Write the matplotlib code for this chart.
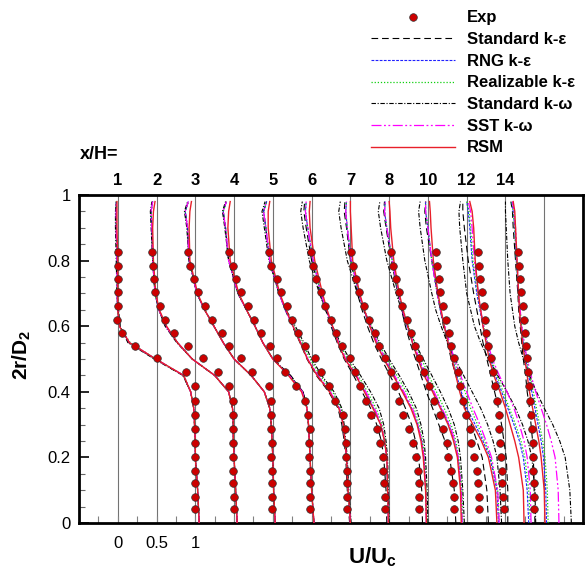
import numpy as np
import matplotlib
matplotlib.use("Agg")
import matplotlib.pyplot as plt
from matplotlib.lines import Line2D

plt.rcParams['font.family'] = ['Liberation Sans', 'DejaVu Sans']
plt.rcParams['mathtext.fontset'] = 'custom'
plt.rcParams['mathtext.rm'] = 'Liberation Sans'
plt.rcParams['mathtext.bf'] = 'Liberation Sans:bold'

# stations x/H, each profile shifted by 0.5 on the U axis
stations = ['1', '2', '3', '4', '5', '6', '7', '8', '10', '12', '14']
shift = 0.5

# experimental points (2r/D2)
y_exp = [0.043, 0.08, 0.122, 0.16, 0.201, 0.244, 0.287, 0.329, 0.372, 0.417,
         0.46, 0.503, 0.54, 0.579, 0.619, 0.662, 0.704, 0.744, 0.784, 0.826]
exp_u = [
    [.99, .99, 1.0, 1.0, .99, .99, 1.0, .99, 1.0, .99, .88, .50, .22, .06, -.01, .0, .0, .0, .0, .0],
    [1.0, 1.0, .99, .99, .98, .99, .99, .99, .98, .94, .79, .60, .40, .23, .115, .04, -.02, -.035, -.04, -.055],
    [.99, .99, .99, .99, .98, .99, .98, .98, .98, .95, .73, .59, .44, .35, .22, .13, .03, -.02, -.064, -.094],
    [.98, .98, .98, .98, .97, .97, .98, .95, .91, .80, .66, .56, .46, .35, .26, .18, .09, .03, -.02, -.07],
    [.95, .95, .95, .95, .94, .94, .93, .90, .80, .72, .62, .54, .42, .33, .25, .18, .10, .06, -.02, -.05],
    [.95, .95, .93, .92, .915, .885, .84, .76, .70, .63, .56, .49, .39, .32, .25, .175, .12, .06, .02, -.01],
    [.885, .885, .885, .87, .84, .81, .756, .68, .63, .58, .52, .44, .37, .32, .245, .18, .115, .07, .03, .01],
    [.84, .84, .82, .80, .76, .74, .70, .65, .58, .52, .45, .38, .33, .28, .235, .16, .13, .085, .055, .02],
    [.66, .66, .64, .63, .59, .56, .54, .49, .45, .41, .39, .34, .30, .27, .23, .19, .16, .14, .12, .10],
    [.48, .47, .46, .45, .44, .43, .42, .42, .39, .37, .34, .31, .27, .25, .23, .22, .195, .17, .16, .146],
    [.37, .37, .37, .36, .36, .35, .34, .33, .32, .30, .29, .28, .27, .25, .24, .23, .20, .19, .18, .165],
]

# model profiles, read on a common 2r/D2 grid
y_line = [0.0, 0.1, 0.2, 0.25, 0.3, 0.35, 0.4, 0.45, 0.5, 0.55, 0.6, 0.65, 0.7, 0.8, 0.9, 0.95, 0.98]

ske_u = [
    [1.05, 1.03, 1.0, 1.0, .99, .98, .94, .84, .48, .14, .03, .0, -.01, -.01, -.02, -.02, -.02],
    [1.04, 1.02, 1.0, .99, .99, .98, .93, .75, .46, .27, .12, .03, -.02, -.05, -.06, -.07, -.05],
    [1.03, 1.01, 1.0, .99, .98, .96, .89, .72, .50, .36, .24, .12, .02, -.08, -.10, -.13, -.09],
    [1.03, 1.0, .98, .97, .96, .94, .89, .73, .50, .37, .27, .16, .05, -.07, -.11, -.14, -.10],
    [.99, .96, .94, .92, .89, .84, .72, .56, .44, .35, .25, .16, .08, -.04, -.09, -.12, -.08],
    [.97, .96, .93, .90, .84, .76, .65, .54, .42, .33, .25, .18, .11, .0, -.07, -.10, -.09],
    [.93, .92, .88, .84, .79, .71, .62, .51, .40, .30, .22, .15, .09, .0, -.05, -.08, -.07],
    [.86, .84, .78, .72, .64, .56, .48, .41, .34, .27, .21, .16, .11, .03, -.04, -.07, -.06],
    [.78, .76, .70, .63, .56, .48, .42, .36, .30, .25, .20, .16, .12, .05, -.02, -.04, -.03],
    [.53, .53, .51, .48, .45, .41, .36, .31, .26, .21, .17, .13, .09, .02, -.03, -.05, -.05],
    [.38, .37, .36, .35, .33, .31, .28, .26, .23, .21, .19, .17, .16, .13, .10, .09, .07],
]
rng_u = [
    [1.05, 1.03, 1.0, 1.0, .99, .98, .94, .85, .49, .15, .02, .0, -.01, -.01, -.02, -.02, -.02],
    [1.04, 1.02, 1.0, .99, .99, .98, .93, .75, .46, .27, .12, .03, -.02, -.05, -.06, -.07, -.05],
    [1.03, 1.01, 1.0, .99, .98, .96, .89, .72, .50, .36, .24, .12, .02, -.08, -.10, -.13, -.09],
    [1.03, 1.0, .98, .97, .96, .94, .88, .71, .50, .37, .27, .16, .05, -.07, -.11, -.14, -.10],
    [1.0, .97, .95, .93, .91, .86, .74, .58, .45, .36, .26, .16, .08, -.04, -.09, -.12, -.08],
    [.99, .98, .97, .94, .89, .80, .69, .57, .43, .34, .26, .19, .12, .02, -.05, -.08, -.07],
    [.98, .97, .95, .92, .87, .79, .68, .56, .44, .34, .25, .17, .11, .01, -.04, -.06, -.05],
    [.94, .93, .89, .84, .77, .67, .57, .46, .38, .30, .23, .17, .12, .04, -.03, -.06, -.05],
    [.91, .89, .80, .71, .61, .50, .43, .37, .32, .26, .21, .16, .12, .05, .0, -.03, -.03],
    [.80, .78, .73, .68, .61, .53, .45, .37, .31, .26, .21, .17, .13, .07, .04, .02, .0],
    [.53, .52, .49, .46, .42, .38, .34, .30, .26, .23, .20, .18, .17, .14, .12, .10, .08],
]
rke_u = [
    [1.05, 1.03, 1.0, 1.0, .99, .98, .94, .85, .49, .16, .02, .0, -.01, -.01, -.02, -.02, -.02],
    [1.04, 1.02, 1.0, .99, .99, .98, .93, .75, .46, .27, .12, .03, -.02, -.05, -.06, -.07, -.05],
    [1.03, 1.01, 1.0, .99, .98, .96, .89, .72, .50, .36, .24, .12, .02, -.08, -.10, -.13, -.09],
    [1.03, 1.0, .98, .97, .96, .94, .88, .71, .50, .37, .27, .16, .05, -.07, -.11, -.14, -.10],
    [1.0, .97, .95, .93, .91, .88, .77, .61, .48, .38, .27, .17, .08, -.04, -.09, -.12, -.08],
    [.99, .98, .97, .95, .91, .83, .72, .60, .46, .36, .27, .19, .12, .02, -.05, -.08, -.07],
    [.99, .98, .96, .93, .89, .82, .72, .60, .47, .36, .27, .18, .11, .01, -.04, -.06, -.05],
    [.95, .94, .90, .86, .80, .71, .61, .51, .42, .33, .25, .18, .12, .04, -.03, -.06, -.05],
    [.92, .90, .81, .73, .64, .55, .48, .40, .33, .27, .21, .16, .12, .05, .0, -.03, -.03],
    [.82, .80, .75, .70, .63, .55, .47, .39, .32, .27, .22, .18, .14, .08, .05, .03, .0],
    [.55, .54, .51, .48, .44, .40, .36, .31, .27, .24, .21, .19, .17, .14, .12, .10, .08],
]
skw_u = [
    [1.05, 1.03, 1.0, 1.0, .99, .98, .94, .84, .47, .13, .03, .01, -.01, -.02, -.03, -.03, -.02],
    [1.04, 1.02, 1.0, .99, .99, .98, .93, .75, .46, .26, .11, .03, -.02, -.05, -.07, -.08, -.06],
    [1.03, 1.01, 1.0, .99, .98, .96, .89, .72, .50, .36, .24, .12, .02, -.08, -.11, -.14, -.10],
    [1.03, 1.0, .98, .97, .96, .94, .89, .72, .50, .37, .27, .16, .05, -.07, -.12, -.15, -.11],
    [1.01, .98, .96, .94, .92, .89, .79, .63, .50, .40, .29, .17, .08, -.05, -.11, -.14, -.10],
    [1.0, .99, .98, .96, .93, .87, .76, .63, .49, .37, .27, .18, .10, -.03, -.11, -.14, -.12],
    [1.0, .99, .97, .95, .91, .85, .75, .63, .50, .38, .27, .17, .09, -.04, -.12, -.15, -.13],
    [.97, .95, .92, .89, .84, .76, .66, .55, .44, .33, .24, .16, .09, -.03, -.11, -.14, -.12],
    [.95, .93, .89, .84, .77, .68, .57, .46, .35, .25, .17, .10, .05, -.04, -.10, -.12, -.10],
    [.89, .88, .84, .79, .72, .63, .52, .40, .28, .18, .10, .05, .0, -.05, -.09, -.10, -.08],
    [.85, .83, .77, .70, .61, .50, .40, .31, .23, .17, .12, .09, .06, .03, .01, .0, .0],
]
sst_u = [
    [1.05, 1.03, 1.0, 1.0, .99, .98, .94, .85, .49, .15, .02, .0, -.01, -.01, -.02, -.02, -.02],
    [1.04, 1.02, 1.0, .99, .99, .98, .93, .75, .46, .27, .12, .03, -.02, -.05, -.06, -.07, -.05],
    [1.03, 1.01, 1.0, .99, .98, .96, .89, .72, .50, .36, .24, .12, .02, -.08, -.10, -.13, -.09],
    [1.03, 1.0, .98, .97, .96, .94, .88, .71, .50, .37, .27, .16, .05, -.07, -.11, -.14, -.10],
    [1.0, .97, .95, .93, .91, .86, .74, .58, .45, .36, .26, .16, .08, -.04, -.09, -.12, -.08],
    [.99, .98, .97, .94, .90, .81, .70, .58, .44, .35, .27, .19, .12, .02, -.05, -.08, -.07],
    [.98, .97, .95, .92, .87, .80, .69, .57, .45, .35, .26, .18, .11, .01, -.04, -.06, -.05],
    [.94, .93, .89, .85, .78, .68, .58, .48, .39, .31, .24, .17, .12, .04, -.03, -.06, -.05],
    [.92, .90, .82, .75, .67, .58, .50, .42, .34, .28, .22, .16, .12, .05, .0, -.03, -.03],
    [.83, .82, .78, .74, .68, .61, .52, .42, .33, .27, .22, .18, .15, .10, .07, .05, .02],
    [.69, .68, .64, .59, .53, .46, .39, .33, .28, .24, .21, .19, .17, .15, .13, .11, .09],
]
rsm_u = [
    [1.05, 1.03, 1.0, 1.0, .99, .98, .94, .85, .49, .15, .02, .0, .0, .0, -.01, -.01, -.01],
    [1.04, 1.02, 1.0, .99, .99, .98, .93, .75, .46, .27, .13, .035, -.01, -.04, -.05, -.04, -.02],
    [1.03, 1.01, 1.0, .99, .98, .96, .89, .72, .50, .36, .24, .12, .03, -.07, -.08, -.07, -.05],
    [1.03, 1.0, .98, .97, .96, .94, .87, .70, .50, .37, .27, .16, .06, -.05, -.08, -.07, -.05],
    [1.0, .97, .95, .93, .91, .85, .73, .57, .445, .355, .26, .17, .09, -.02, -.06, -.06, -.04],
    [.99, .98, .97, .94, .89, .79, .68, .57, .43, .34, .27, .20, .14, .04, -.02, -.03, -.02],
    [.98, .97, .94, .91, .86, .78, .67, .55, .43, .33, .25, .18, .12, .03, .01, .0, .0],
    [.93, .92, .88, .83, .76, .66, .56, .45, .37, .30, .24, .18, .13, .06, .02, .01, .0],
    [.89, .87, .78, .69, .58, .47, .41, .36, .31, .26, .21, .17, .13, .07, .04, .03, .02],
    [.74, .73, .67, .62, .56, .50, .43, .35, .29, .25, .21, .18, .15, .11, .09, .07, .04],
    [.51, .50, .46, .43, .39, .35, .31, .28, .25, .22, .20, .18, .17, .15, .13, .12, .10],
]

models = [
    ('Standard k-\u03b5', ske_u, dict(color='black', lw=0.8, dashes=(6, 3.5))),
    ('RNG k-\u03b5', rng_u, dict(color='#2020ff', lw=0.8, dashes=(2.5, 1.2))),
    ('Realizable k-\u03b5', rke_u, dict(color='#10d010', lw=0.9, dashes=(1, 1.5))),
    ('Standard k-\u03c9', skw_u, dict(color='black', lw=0.8, dashes=(4, 1.5, 1, 1.5))),
    ('SST k-\u03c9', sst_u, dict(color='#ff00ff', lw=0.9, dashes=(8, 2, 1.5, 2, 1.5, 2))),
    ('RSM', rsm_u, dict(color='#e8202a', lw=1.0, ls='-')),
]

fig = plt.figure(figsize=(5.87, 5.69), dpi=100)
ax = fig.add_axes([79 / 587, 46 / 569, 504 / 587, 328 / 569])

# station reference lines
for k in range(len(stations) + 1):
    ax.axvline(k * shift, color='0.45', lw=0.8, zorder=1)

for name, data, style in models:
    for k, u in enumerate(data):
        ax.plot(np.array(u) + k * shift, y_line, zorder=3, **style)

for k, u in enumerate(exp_u):
    ax.plot(np.array(u) + k * shift, y_exp, 'o', color='#cc0000', mec='#333333',
            mew=0.5, ms=5.5, zorder=5)

ax.set_xlim(-0.5, 6.0)
ax.set_ylim(0, 1)

xt = np.arange(-0.25, 6.0, 0.25)
xlab = {0.0: '0', 0.5: '0.5', 1.0: '1'}
ax.set_xticks(xt)
ax.set_xticklabels([xlab.get(round(t, 2), '') for t in xt])
ax.tick_params(axis='x', direction='in', length=5, width=0.8, color='0.5', labelsize=12, pad=9)
ax.set_yticks(np.arange(0, 1.01, 0.2))
ax.set_yticklabels(['0', '0.2', '0.4', '0.6', '0.8', '1'])
ax.set_yticks(np.arange(0, 1.01, 0.05), minor=True)
ax.tick_params(axis='y', which='major', direction='in', length=7, width=1.2, labelsize=12, pad=6)
ax.tick_params(axis='y', which='minor', direction='in', length=4, width=0.8, color='0.4')
for s in ax.spines.values():
    s.set_linewidth(2)

# station labels above the axes
for k, lab in enumerate(stations):
    ax.text(k * shift, 1.043, lab, ha='center', va='center', fontsize=12,
            fontweight='bold', clip_on=False)
ax.text(-0.24, 1.122, 'x/H=', ha='center', va='center', fontsize=13,
        fontweight='bold', clip_on=False)

fig.text(22 / 587, 1 - 355 / 569, r'$\mathbf{2r/D_2}$', rotation=90,
         ha='center', va='center', fontsize=15)
fig.text(372 / 587, 1 - 563 / 569, r'$\mathbf{U/U_c}$', ha='center',
         va='baseline', fontsize=16)

handles = [Line2D([], [], ls='none', marker='o', color='#cc0000', mec='#333333',
                  mew=0.5, ms=5.5)]
labels = ['Exp']
for name, data, style in models:
    handles.append(Line2D([], [], **style))
    labels.append(name)
fig.legend(handles, labels, loc='upper left', bbox_to_anchor=(368 / 587, 1 - 7 / 569),
           frameon=False, handlelength=5.0, handletextpad=0.75, labelspacing=0.4,
           borderaxespad=0, borderpad=0.2, prop=dict(weight='bold', size=12))

fig.savefig('out.png', dpi=100)
